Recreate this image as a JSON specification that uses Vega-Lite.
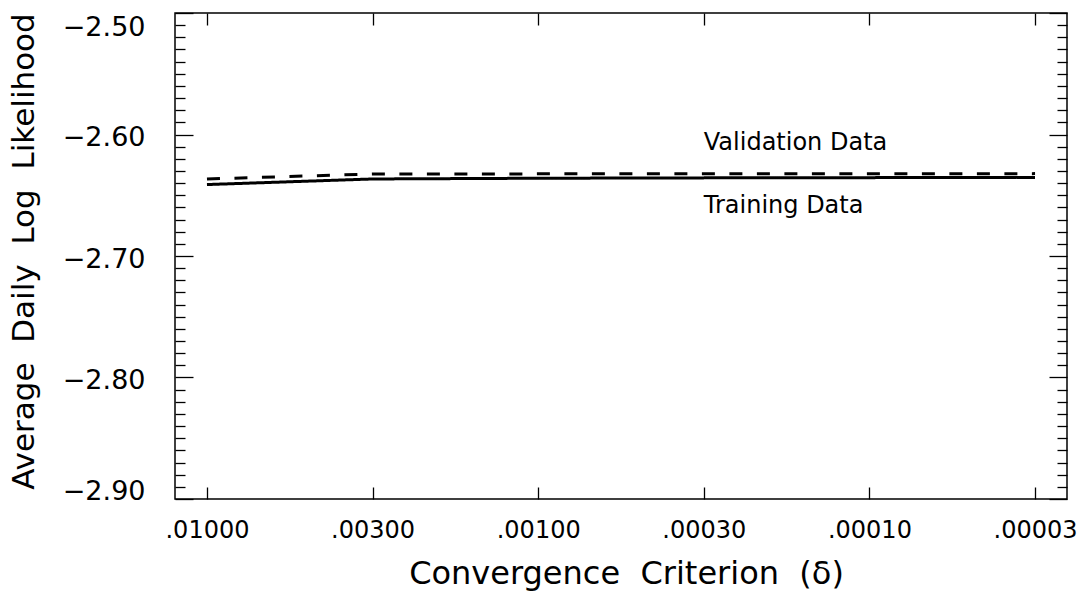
{
  "$schema": "https://vega.github.io/schema/vega-lite/v6.json",
  "width": 892,
  "height": 486,
  "autosize": "none",
  "padding": {"left": 175, "top": 13, "right": 16, "bottom": 101},
  "background": "white",
  "config": {
    "view": {"stroke": "black", "strokeWidth": 1.5},
    "font": "DejaVu Sans",
    "axis": {"labelFont": "DejaVu Sans", "titleFont": "DejaVu Sans", "labelColor": "black", "titleColor": "black", "tickColor": "black", "grid": false, "domain": false, "titleFontWeight": "normal", "tickWidth": 1.3}
  },
  "datasets": {
    "curves": [
      {"series": "Training Data", "delta": ".01000", "value": -2.6412},
      {"series": "Training Data", "delta": ".00300", "value": -2.6366},
      {"series": "Training Data", "delta": ".00100", "value": -2.6360},
      {"series": "Training Data", "delta": ".00030", "value": -2.6357},
      {"series": "Training Data", "delta": ".00010", "value": -2.6355},
      {"series": "Training Data", "delta": ".00003", "value": -2.6353},
      {"series": "Validation Data", "delta": ".01000", "value": -2.6366},
      {"series": "Validation Data", "delta": ".00300", "value": -2.6325},
      {"series": "Validation Data", "delta": ".00100", "value": -2.6324},
      {"series": "Validation Data", "delta": ".00030", "value": -2.6323},
      {"series": "Validation Data", "delta": ".00010", "value": -2.6323},
      {"series": "Validation Data", "delta": ".00003", "value": -2.6322}
    ],
    "notes": [
      {"label": "Validation Data", "delta": ".00030", "value": -2.6125},
      {"label": "Training Data", "delta": ".00030", "value": -2.6644}
    ]
  },
  "layer": [
    {
      "data": {"name": "curves"},
      "mark": {"type": "line", "strokeWidth": 3, "color": "black"},
      "encoding": {
        "x": {
          "field": "delta", "type": "ordinal",
          "scale": {"type": "point", "padding": 0.193, "domain": [".01000", ".00300", ".00100", ".00030", ".00010", ".00003"]},
          "axis": {"orient": "bottom", "tickSize": -12, "labelFontSize": 24, "labelPadding": 31, "labelAngle": 0, "labelFlush": false, "title": "Convergence \u00a0Criterion \u00a0(δ)", "titleFontSize": 32, "titleX": 451, "titleY": 84, "titleBaseline": "alphabetic", "titleAlign": "center"}
        },
        "y": {
          "field": "value", "type": "quantitative",
          "scale": {"domain": [-2.9, -2.5], "zero": false, "nice": false},
          "axis": {
            "orient": "left",
            "values": [-2.9, -2.8, -2.7, -2.6, -2.5],
            "labelExpr": "replace(format(datum.value, '.2f'), '-', '−')",
            "ticks": false,
            "labelFontSize": 27,
            "labelPadding": 30,
            "labelBaseline": "middle",
            "labelOffset": {"condition": [{"test": "datum.value > -2.505", "value": 14}, {"test": "datum.value < -2.895", "value": -8}], "value": 3},
            "labelFlush": false,
            "labelOverlap": false,
            "labelBound": false,
            "title": "Average \u00a0Daily \u00a0Log \u00a0Likelihood",
            "titleFontSize": 31,
            "titleX": -142,
            "titleY": 238,
            "titleAngle": -90,
            "titleBaseline": "alphabetic",
            "titleAlign": "center"
          }
        },
        "strokeDash": {"field": "series", "type": "nominal", "scale": {"domain": ["Training Data", "Validation Data"], "range": [[1, 0], [13, 14.5]]}, "legend": null}
      }
    },
    {
      "data": {"name": "curves"},
      "mark": {"type": "point", "opacity": 0},
      "encoding": {
        "x": {"field": "delta", "type": "ordinal", "axis": {"orient": "top", "labels": false, "tickSize": -12, "title": null}},
        "y": {
          "field": "value", "type": "quantitative",
          "axis": {
            "orient": "right", "labels": false, "title": null,
            "values": [-2.90,-2.89,-2.88,-2.87,-2.86,-2.85,-2.84,-2.83,-2.82,-2.81,-2.80,-2.79,-2.78,-2.77,-2.76,-2.75,-2.74,-2.73,-2.72,-2.71,-2.70,-2.69,-2.68,-2.67,-2.66,-2.65,-2.64,-2.63,-2.62,-2.61,-2.60,-2.59,-2.58,-2.57,-2.56,-2.55,-2.54,-2.53,-2.52,-2.51,-2.50],
            "tickSize": {"condition": {"test": "abs(datum.value*10 - round(datum.value*10)) < 0.01", "value": -18}, "value": -10}
          }
        }
      }
    },
    {
      "data": {"name": "curves"},
      "mark": {"type": "point", "opacity": 0},
      "encoding": {
        "y": {
          "field": "value", "type": "quantitative",
          "axis": {
            "orient": "left", "labels": false, "title": null,
            "values": [-2.90,-2.89,-2.88,-2.87,-2.86,-2.85,-2.84,-2.83,-2.82,-2.81,-2.80,-2.79,-2.78,-2.77,-2.76,-2.75,-2.74,-2.73,-2.72,-2.71,-2.70,-2.69,-2.68,-2.67,-2.66,-2.65,-2.64,-2.63,-2.62,-2.61,-2.60,-2.59,-2.58,-2.57,-2.56,-2.55,-2.54,-2.53,-2.52,-2.51,-2.50],
            "tickSize": {"condition": {"test": "abs(datum.value*10 - round(datum.value*10)) < 0.01", "value": -18}, "value": -10}
          }
        }
      }
    },
    {
      "data": {"name": "notes"},
      "mark": {"type": "text", "align": "left", "baseline": "alphabetic", "fontSize": 24, "font": "DejaVu Sans", "color": "black"},
      "encoding": {
        "x": {"field": "delta", "type": "ordinal", "axis": null},
        "y": {"field": "value", "type": "quantitative", "axis": null},
        "text": {"field": "label"}
      }
    }
  ],
  "resolve": {"axis": {"x": "independent", "y": "independent"}}
}
